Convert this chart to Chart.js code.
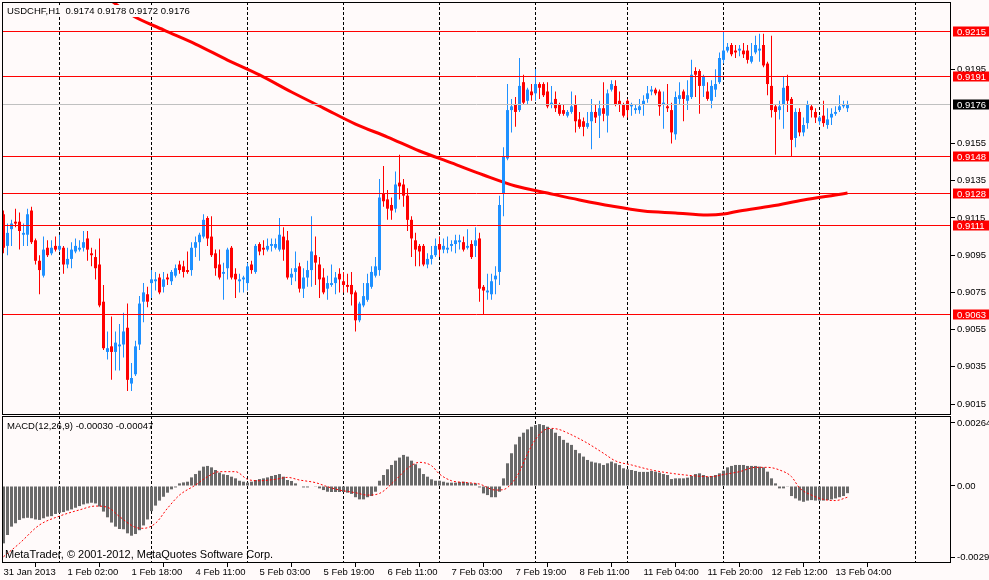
<!DOCTYPE html>
<html>
<head>
<meta charset="utf-8">
<title>USDCHF,H1</title>
<script src="https://cdn.jsdelivr.net/npm/chart.js@4.4.1/dist/chart.umd.min.js"></script>
<style>
  html, body { margin: 0; padding: 0; background: #fffafa; }
  #wrap { position: relative; width: 989px; height: 580px; overflow: hidden; }
  #priceChart { position: absolute; left: 0; top: 0; }
  #macdChart { position: absolute; left: 0; top: 416px; }
</style>
</head>
<body>
<div id="wrap">
  <canvas id="priceChart" width="989" height="416"></canvas>
  <canvas id="macdChart" width="989" height="164"></canvas>
</div>
<script>
// hourly bars, 31 Jan 10:00 .. 13 Feb 06:00
const opens = [
  0.9117,0.9100,0.9109,0.9113,0.9113,0.9106,0.9106,0.9119,0.9103,0.9092,
  0.9084,0.9099,0.9096,0.9100,0.9098,0.9099,0.9090,0.9093,0.9097,0.9098,
  0.9099,0.9104,0.9096,0.9094,0.9090,0.9070,0.9043,0.9046,0.9043,0.9046,
  0.9047,0.9056,0.9026,0.9031,0.9047,0.9070,0.9074,0.9080,0.9081,0.9083,
  0.9078,0.9083,0.9081,0.9084,0.9090,0.9089,0.9087,0.9087,0.9099,0.9102,
  0.9105,0.9115,0.9105,0.9096,0.9090,0.9085,0.9088,0.9099,0.9085,0.9081,
  0.9082,0.9080,0.9090,0.9086,0.9101,0.9099,0.9098,0.9100,0.9099,0.9098,
  0.9105,0.9103,0.9083,0.9086,0.9089,0.9077,0.9083,0.9087,0.9095,0.9090,
  0.9083,0.9077,0.9079,0.9080,0.9085,0.9081,0.9079,0.9079,0.9075,0.9060,
  0.9068,0.9071,0.9078,0.9084,0.9087,0.9128,0.9125,0.9122,0.9120,0.9134,
  0.9133,0.9127,0.9114,0.9103,0.9100,0.9100,0.9090,0.9093,0.9095,0.9101,
  0.9098,0.9098,0.9100,0.9101,0.9102,0.9102,0.9099,0.9101,0.9100,0.9104,
  0.9078,0.9075,0.9074,0.9082,0.9086,0.9128,0.9147,0.9173,0.9176,0.9173,
  0.9188,0.9178,0.9183,0.9182,0.9187,0.9187,0.9183,0.9176,0.9179,0.9176,
  0.9173,0.9170,0.9172,0.9176,0.9168,0.9167,0.9164,0.9167,0.9172,0.9170,
  0.9174,0.9170,0.9184,0.9186,0.9178,0.9176,0.9178,0.9175,0.9173,0.9173,
  0.9176,0.9179,0.9183,0.9184,0.9183,0.9176,0.9175,0.9173,0.9160,0.9179,
  0.9183,0.9178,0.9180,0.9194,0.9194,0.9186,0.9183,0.9178,0.9184,0.9188,
  0.9200,0.9205,0.9208,0.9205,0.9205,0.9205,0.9205,0.9199,0.9204,0.9205,
  0.9208,0.9198,0.9186,0.9175,0.9173,0.9176,0.9186,0.9179,0.9158,0.9172,
  0.9161,0.9166,0.9175,0.9172,0.9167,0.9170,0.9165,0.9169,0.9171,0.9173,
  0.9175,0.9174
];
const highs = [
  0.9119,0.9112,0.9114,0.9120,0.9118,0.9112,0.9120,0.9121,0.9104,0.9095,
  0.9105,0.9103,0.9103,0.9105,0.9106,0.9100,0.9099,0.9102,0.9104,0.9103,
  0.9108,0.9108,0.9099,0.9098,0.9104,0.9079,0.9054,0.9062,0.9054,0.9058,
  0.9064,0.9069,0.9037,0.9049,0.9073,0.9080,0.9078,0.9087,0.9086,0.9085,
  0.9086,0.9085,0.9087,0.9090,0.9092,0.9092,0.9097,0.9102,0.9105,0.9107,
  0.9117,0.9116,0.9116,0.9098,0.9098,0.9091,0.9099,0.9100,0.9088,0.9085,
  0.9084,0.9091,0.9092,0.9101,0.9102,0.9103,0.9104,0.9104,0.9104,0.9115,
  0.9110,0.9108,0.9088,0.9097,0.9091,0.9088,0.9092,0.9116,0.9105,0.9094,
  0.9088,0.9084,0.9090,0.9086,0.9088,0.9086,0.9085,0.9086,0.9076,0.9070,
  0.9080,0.9085,0.9089,0.9094,0.9136,0.9143,0.9130,0.9126,0.9140,0.9149,
  0.9136,0.9131,0.9116,0.9107,0.9101,0.9101,0.9096,0.9100,0.9104,0.9105,
  0.9104,0.9105,0.9103,0.9106,0.9106,0.9105,0.9109,0.9103,0.9110,0.9107,
  0.9079,0.9085,0.9085,0.9089,0.9127,0.9153,0.9187,0.9179,0.9180,0.9201,
  0.9192,0.9185,0.9187,0.9195,0.9188,0.9188,0.9188,0.9186,0.9183,0.9177,
  0.9176,0.9173,0.9183,0.9181,0.9172,0.9169,0.9172,0.9179,0.9176,0.9178,
  0.9188,0.9184,0.9189,0.9189,0.9183,0.9177,0.9179,0.9177,0.9176,0.9179,
  0.9181,0.9186,0.9186,0.9185,0.9184,0.9183,0.9187,0.9177,0.9183,0.9188,
  0.9184,0.9189,0.9200,0.9196,0.9195,0.9192,0.9188,0.9189,0.9195,0.9204,
  0.9215,0.9209,0.9209,0.9208,0.9208,0.9209,0.9208,0.9209,0.9213,0.9214,
  0.9214,0.9199,0.9213,0.9176,0.9178,0.9191,0.9192,0.9180,0.9174,0.9174,
  0.9169,0.9178,0.9176,0.9174,0.9170,0.9178,0.9174,0.9174,0.9175,0.9181,
  0.9178,0.9178
];
const lows = [
  0.9096,0.9095,0.9100,0.9110,0.9098,0.9100,0.9100,0.9101,0.9090,0.9074,
  0.9083,0.9094,0.9095,0.9097,0.9097,0.9085,0.9088,0.9088,0.9096,0.9097,
  0.9097,0.9092,0.9089,0.9082,0.9067,0.9044,0.9039,0.9028,0.9033,0.9033,
  0.9040,0.9022,0.9022,0.9030,0.9044,0.9059,0.9067,0.9072,0.9076,0.9074,
  0.9075,0.9079,0.9079,0.9083,0.9085,0.9083,0.9085,0.9084,0.9094,0.9092,
  0.9104,0.9100,0.9094,0.9084,0.9082,0.9071,0.9082,0.9082,0.9072,0.9075,
  0.9075,0.9076,0.9085,0.9085,0.9095,0.9095,0.9097,0.9097,0.9098,0.9097,
  0.9092,0.9082,0.9079,0.9081,0.9075,0.9072,0.9078,0.9078,0.9079,0.9072,
  0.9074,0.9071,0.9078,0.9074,0.9075,0.9075,0.9075,0.9068,0.9054,0.9059,
  0.9067,0.9070,0.9077,0.9083,0.9084,0.9121,0.9114,0.9114,0.9118,0.9125,
  0.9121,0.9108,0.9094,0.9089,0.9089,0.9089,0.9088,0.9090,0.9094,0.9094,
  0.9096,0.9096,0.9097,0.9096,0.9098,0.9097,0.9098,0.9093,0.9094,0.9070,
  0.9063,0.9071,0.9071,0.9074,0.9079,0.9116,0.9146,0.9161,0.9164,0.9172,
  0.9176,0.9176,0.9178,0.9178,0.9179,0.9180,0.9174,0.9174,0.9172,0.9170,
  0.9170,0.9169,0.9171,0.9161,0.9163,0.9159,0.9163,0.9152,0.9166,0.9158,
  0.9167,0.9161,0.9183,0.9175,0.9172,0.9169,0.9169,0.9170,0.9171,0.9171,
  0.9170,0.9177,0.9181,0.9181,0.9170,0.9163,0.9172,0.9155,0.9157,0.9176,
  0.9167,0.9173,0.9179,0.9180,0.9171,0.9180,0.9178,0.9174,0.9180,0.9187,
  0.9198,0.9204,0.9202,0.9201,0.9202,0.9201,0.9198,0.9198,0.9203,0.9199,
  0.9196,0.9181,0.9169,0.9149,0.9168,0.9163,0.9172,0.9148,0.9153,0.9159,
  0.9159,0.9163,0.9169,0.9166,0.9165,0.9164,0.9163,0.9165,0.9170,0.9172,
  0.9174,0.9172
];
const closes = [
  0.9099,0.9107,0.9112,0.9112,0.9108,0.9107,0.9117,0.9102,0.9092,0.9087,
  0.9098,0.9095,0.9099,0.9098,0.9100,0.9090,0.9093,0.9098,0.9100,0.9099,
  0.9102,0.9098,0.9095,0.9088,0.9068,0.9045,0.9045,0.9043,0.9048,0.9047,
  0.9054,0.9028,0.9029,0.9046,0.9069,0.9075,0.9070,0.9082,0.9082,0.9075,
  0.9082,0.9082,0.9086,0.9088,0.9087,0.9086,0.9086,0.9099,0.9102,0.9106,
  0.9114,0.9104,0.9095,0.9088,0.9083,0.9086,0.9098,0.9083,0.9082,0.9082,
  0.9083,0.9089,0.9087,0.9100,0.9097,0.9098,0.9100,0.9101,0.9101,0.9106,
  0.9098,0.9083,0.9085,0.9088,0.9077,0.9083,0.9087,0.9097,0.9091,0.9082,
  0.9075,0.9080,0.9080,0.9083,0.9082,0.9079,0.9078,0.9074,0.9060,0.9069,
  0.9073,0.9080,0.9086,0.9089,0.9126,0.9124,0.9120,0.9119,0.9133,0.9132,
  0.9127,0.9114,0.9104,0.9098,0.9097,0.9090,0.9093,0.9095,0.9100,0.9098,
  0.9100,0.9099,0.9101,0.9103,0.9103,0.9098,0.9100,0.9094,0.9103,0.9077,
  0.9076,0.9076,0.9081,0.9084,0.9122,0.9148,0.9173,0.9175,0.9172,0.9186,
  0.9177,0.9184,0.9181,0.9187,0.9185,0.9181,0.9175,0.9177,0.9174,0.9171,
  0.9171,0.9172,0.9175,0.9167,0.9164,0.9164,0.9166,0.9172,0.9169,0.9174,
  0.9171,0.9182,0.9187,0.9176,0.9176,0.9170,0.9173,0.9176,0.9174,0.9175,
  0.9178,0.9182,0.9184,0.9182,0.9175,0.9177,0.9174,0.9161,0.9180,0.9181,
  0.9179,0.9181,0.9192,0.9192,0.9186,0.9191,0.9179,0.9186,0.9187,0.9201,
  0.9205,0.9207,0.9203,0.9204,0.9206,0.9203,0.9200,0.9202,0.9208,0.9206,
  0.9197,0.9187,0.9173,0.9172,0.9175,0.9185,0.9178,0.9157,0.9172,0.9161,
  0.9165,0.9176,0.9173,0.9169,0.9169,0.9166,0.9168,0.9171,0.9172,0.9175,
  0.9176,0.9176
];

// moving average, read at a few bars
const maBars = [25, 32, 40, 48, 56, 64, 72, 80, 88, 96, 104, 112, 120, 128, 136, 144, 152, 160, 168, 176, 180, 184, 192, 200, 208, 211];
const maValues = [0.92350, 0.92241, 0.92161, 0.92085, 0.91999, 0.91919, 0.91827, 0.91741, 0.91655, 0.91585,
                  0.91510, 0.91446, 0.91381, 0.91322, 0.91284, 0.91247, 0.91214, 0.91188, 0.91177, 0.91166,
                  0.91171, 0.91188, 0.91214, 0.91247, 0.91274, 0.91284];

// MACD(12,26,9) histogram, one value per bar
const macdHist = [
  -0.00240,-0.00205,-0.00170,-0.00156,-0.00142,-0.00135,-0.00133,-0.00135,-0.00140,-0.00142,
  -0.00135,-0.00128,-0.00126,-0.00117,-0.00112,-0.00109,-0.00103,-0.00098,-0.00091,-0.00084,
  -0.00077,-0.00073,-0.00070,-0.00073,-0.00086,-0.00107,-0.00131,-0.00153,-0.00170,-0.00180,
  -0.00181,-0.00198,-0.00208,-0.00201,-0.00185,-0.00165,-0.00140,-0.00105,-0.00082,-0.00061,
  -0.00045,-0.00028,-0.00014,-0.00006, 0.00011, 0.00015, 0.00018, 0.00036, 0.00050, 0.00064,
   0.00081, 0.00084, 0.00078, 0.00067, 0.00056, 0.00049, 0.00046, 0.00039, 0.00032, 0.00022,
   0.00018, 0.00014, 0.00018, 0.00025, 0.00029, 0.00032, 0.00036, 0.00042, 0.00046, 0.00050,
   0.00039, 0.00025, 0.00021, 0.00011, 0.00002,-0.00006,-0.00006,-0.00002,-0.00003,-0.00010,
  -0.00017,-0.00024,-0.00025,-0.00025,-0.00025,-0.00025,-0.00028,-0.00033,-0.00047,-0.00056,
  -0.00056,-0.00047,-0.00042,-0.00024, 0.00022, 0.00046, 0.00070, 0.00088, 0.00106, 0.00119,
   0.00130, 0.00123, 0.00106, 0.00091, 0.00074, 0.00050, 0.00039, 0.00028, 0.00022, 0.00022,
   0.00018, 0.00014, 0.00014, 0.00014, 0.00017, 0.00018, 0.00014, 0.00011, 0.00011,-0.00006,
  -0.00031,-0.00038,-0.00047,-0.00047,-0.00024, 0.00032, 0.00095, 0.00137, 0.00174, 0.00206,
   0.00223, 0.00237, 0.00248, 0.00255, 0.00259, 0.00255, 0.00248, 0.00239, 0.00223, 0.00209,
   0.00193, 0.00181, 0.00172, 0.00151, 0.00137, 0.00123, 0.00109, 0.00102, 0.00098, 0.00095,
   0.00088, 0.00095, 0.00102, 0.00095, 0.00088, 0.00074, 0.00070, 0.00067, 0.00063, 0.00059,
   0.00059, 0.00059, 0.00063, 0.00060, 0.00056, 0.00050, 0.00046, 0.00029, 0.00032, 0.00032,
   0.00032, 0.00035, 0.00042, 0.00050, 0.00053, 0.00046, 0.00039, 0.00042, 0.00046, 0.00053,
   0.00064, 0.00078, 0.00084, 0.00088, 0.00088, 0.00088, 0.00084, 0.00084, 0.00084, 0.00081,
   0.00078, 0.00060, 0.00032, 0.00011,-0.00010,-0.00010,-0.00003,-0.00042,-0.00052,-0.00061,
  -0.00066,-0.00061,-0.00059,-0.00061,-0.00061,-0.00061,-0.00059,-0.00056,-0.00052,-0.00047,
  -0.00042,-0.00030
];
// signal line, read at a few bars
const signalBars = [0, 4, 9, 14, 19, 23, 26, 29, 33, 35, 38, 41, 44, 48, 51, 54, 58, 61, 64, 68, 71, 74, 78, 81, 84, 88,
                    91, 94, 98, 101, 104, 107, 109, 112, 116, 119, 123, 125, 127, 129, 131, 133, 135, 137, 139, 141, 143,
                    146, 150, 153, 157, 162, 167, 173, 177, 180, 184, 188, 191, 194, 197, 199, 202, 205, 208, 211];
const signalValues = [-0.00296, -0.00240, -0.00163, -0.00126, -0.00100, -0.00084, -0.00089, -0.00128, -0.00173, -0.00177,
                      -0.00156, -0.00093, -0.00038, 0.00004, 0.00039, 0.00060, 0.00060, 0.00028, 0.00022, 0.00028,
                      0.00036, 0.00025, 0.00014, -0.00003, -0.00017, -0.00028, -0.00038, -0.00031, 0.00025, 0.00074,
                      0.00099, 0.00085, 0.00050, 0.00022, 0.00014, 0.00008, -0.00017, -0.00015, 0.00010, 0.00060,
                      0.00135, 0.00195, 0.00232, 0.00241, 0.00236, 0.00222, 0.00206, 0.00179, 0.00137, 0.00105,
                      0.00088, 0.00067, 0.00053, 0.00042, 0.00039, 0.00048, 0.00060, 0.00078, 0.00078, 0.00067,
                      0.00039, -0.00008, -0.00038, -0.00056, -0.00061, -0.00047];

const dayStarts = [14, 37, 61, 85, 109, 133, 156, 180, 204, 228];
const timeBars = [0, 16, 32, 48, 64, 80, 96, 112, 128, 144, 160, 176, 192, 208];
const timeLabels = ['31 Jan 2013', '1 Feb 02:00', '1 Feb 18:00', '4 Feb 11:00', '5 Feb 03:00', '5 Feb 19:00', '6 Feb 11:00',
                    '7 Feb 03:00', '7 Feb 19:00', '8 Feb 11:00', '11 Feb 04:00', '11 Feb 20:00', '12 Feb 12:00', '13 Feb 04:00'];
const priceTicks = [0.9015, 0.9035, 0.9055, 0.9075, 0.9095, 0.9115, 0.9135, 0.9155, 0.9195];
const levelLines = [0.9215, 0.9191, 0.9148, 0.9128, 0.9111, 0.9063];
const bidPrice = 0.9176;
const macdTicks = [-0.00299, 0, 0.00264];
const macdTickLabels = ['-0.00299', '0.00', '0.00264'];
const symbol = 'USDCHF,H1';
const lastBar = [0.9174, 0.9178, 0.9172, 0.9176];
const macdTitle = 'MACD(12,26,9) -0.00030 -0.00047';
const watermark = 'MetaTrader, \u00a9 2001-2012, MetaQuotes Software Corp.';

const FONT = "'Liberation Sans', Arial, sans-serif";
const TXT = 9.5;
const BULL = '#1e90ff', BEAR = '#ff0000', BG = '#fffafa';
const X_MIN = -0.375, X_MAX = 236.875;
const AXIS_W = 38;

const bars = opens.map((_, i) => i);
const candleColors = bars.map(i => closes[i] >= opens[i] ? BULL : BEAR);

// dashed day separators
function daySeparators(chart) {
    const {ctx, chartArea: a, scales: {x}} = chart;
    ctx.save();
    ctx.strokeStyle = '#000';
    ctx.lineWidth = 1;
    ctx.setLineDash([3, 2]);
    ctx.beginPath();
    dayStarts.forEach(d => {
        const px = Math.floor(x.getPixelForValue(d)) + 0.5;
        ctx.moveTo(px, a.top);
        ctx.lineTo(px, a.bottom);
    });
    ctx.stroke();
    ctx.restore();
}

function drawFrame(chart) {
    const {ctx, chartArea: a} = chart;
    ctx.save();
    ctx.strokeStyle = '#000';
    ctx.lineWidth = 1;
    ctx.strokeRect(a.left + 0.5, a.top + 0.5, a.width - 1, a.height - 1);
    ctx.restore();
}

const pricePlugin = {
    id: 'pricePlugin',
    beforeDatasetsDraw(chart) {
        daySeparators(chart);
    },
    afterDatasetsDraw(chart) {
        const {ctx, chartArea: a, scales: {y}} = chart;
        ctx.save();
        ctx.lineWidth = 1;
        const hline = (v, color) => {
            const py = Math.floor(y.getPixelForValue(v)) + 0.5;
            ctx.strokeStyle = color;
            ctx.beginPath();
            ctx.moveTo(a.left, py);
            ctx.lineTo(a.right, py);
            ctx.stroke();
        };
        hline(bidPrice, '#c0c0c0');
        levelLines.forEach(v => hline(v, '#ff0000'));
        ctx.restore();
    },
    afterDraw(chart) {
        const {ctx, chartArea: a, scales: {y}} = chart;
        drawFrame(chart);
        ctx.save();
        ctx.font = TXT + 'px ' + FONT;
        ctx.textBaseline = 'middle';
        const tag = (v, bg) => {
            const py = Math.floor(y.getPixelForValue(v)) + 0.5;
            ctx.fillStyle = bg;
            ctx.fillRect(a.right + 2, py - 5, 36, 10);
            ctx.fillStyle = '#fff';
            ctx.fillText(v.toFixed(4), a.right + 6, py + 0.5);
        };
        levelLines.forEach(v => tag(v, '#ff0000'));
        tag(bidPrice, '#000');

        // top-left caption
        const caption = symbol + '  ' + lastBar.map(v => v.toFixed(4)).join(' ');
        const w = ctx.measureText(caption).width;
        ctx.fillStyle = BG;
        ctx.fillRect(a.left + 3, a.top + 3, w + 5, 12);
        ctx.fillStyle = '#000';
        ctx.fillText(caption, a.left + 5, a.top + 9);
        ctx.restore();
    }
};

const macdPlugin = {
    id: 'macdPlugin',
    beforeDatasetsDraw(chart) {
        daySeparators(chart);
    },
    afterDraw(chart) {
        const {ctx, chartArea: a} = chart;
        drawFrame(chart);
        ctx.save();
        ctx.textBaseline = 'middle';
        ctx.fillStyle = '#000';
        ctx.font = TXT + 'px ' + FONT;
        ctx.fillText(macdTitle, a.left + 5, a.top + 10);
        ctx.font = '11px ' + FONT;
        ctx.fillText(watermark, a.left + 3, a.bottom - 8);
        ctx.restore();
    }
};

const axisFont = { family: FONT, size: TXT };

// price panel
new Chart(document.getElementById('priceChart'), {
    type: 'bar',
    data: {
        datasets: [
            {
                type: 'line',
                data: maBars.map((b, k) => ({ x: b, y: maValues[k] })),
                borderColor: '#ff0000',
                borderWidth: 3,
                pointRadius: 0,
                tension: 0.4,
                cubicInterpolationMode: 'monotone',
                order: 3
            },
            {
                data: bars.map(i => ({ x: i, y: [lows[i], highs[i]] })),
                backgroundColor: candleColors,
                barThickness: 1,
                grouped: false,
                inflateAmount: 0,
                order: 2
            },
            {
                data: bars.map(i => ({ x: i, y: [opens[i], closes[i]] })),
                backgroundColor: candleColors,
                barThickness: 3,
                minBarLength: 1,
                grouped: false,
                inflateAmount: 0,
                order: 1
            }
        ]
    },
    options: {
        responsive: false,
        animation: false,
        events: [],
        layout: { padding: { left: 2, top: 2, right: 0, bottom: 1 } },
        plugins: { legend: { display: false }, tooltip: { enabled: false } },
        scales: {
            x: { type: 'linear', min: X_MIN, max: X_MAX, offset: false, display: false },
            y: {
                position: 'right',
                min: 0.90091,
                max: 0.92311,
                afterBuildTicks: s => { s.ticks = priceTicks.map(v => ({ value: v })); },
                afterFit: s => { s.width = AXIS_W; s.paddingTop = 0; s.paddingBottom = 0; },
                grid: { drawOnChartArea: false, drawTicks: true, tickLength: 4, tickColor: '#000' },
                border: { display: false },
                ticks: { autoSkip: false, padding: 2, color: '#000', font: axisFont, callback: v => v.toFixed(4) }
            }
        }
    },
    plugins: [pricePlugin]
});

// MACD panel
new Chart(document.getElementById('macdChart'), {
    type: 'bar',
    data: {
        datasets: [
            {
                type: 'line',
                data: signalBars.map((b, k) => ({ x: b, y: signalValues[k] })),
                borderColor: '#ff0000',
                borderWidth: 1,
                borderDash: [2, 2],
                pointRadius: 0,
                tension: 0.4,
                cubicInterpolationMode: 'monotone',
                order: 0
            },
            {
                data: bars.map(i => ({ x: i, y: macdHist[i] })),
                backgroundColor: '#696969',
                barThickness: 3,
                inflateAmount: 0,
                order: 1
            }
        ]
    },
    options: {
        responsive: false,
        animation: false,
        events: [],
        layout: { padding: { left: 2, top: 0, right: 0, bottom: 0 } },
        plugins: { legend: { display: false }, tooltip: { enabled: false } },
        scales: {
            x: {
                type: 'linear',
                min: X_MIN,
                max: X_MAX,
                offset: false,
                afterBuildTicks: s => { s.ticks = timeBars.map(v => ({ value: v })); },
                afterFit: s => { s.height = 17; s.paddingLeft = 0; s.paddingRight = 0; },
                grid: { drawOnChartArea: false, drawTicks: true, tickLength: 4, tickColor: '#000' },
                border: { display: false },
                ticks: {
                    align: 'start', autoSkip: false, maxRotation: 0, minRotation: 0, padding: 0,
                    color: '#000', font: axisFont, callback: (v, i) => timeLabels[i]
                }
            },
            y: {
                position: 'right',
                min: -0.003222,
                max: 0.002929,
                afterBuildTicks: s => { s.ticks = macdTicks.map(v => ({ value: v })); },
                afterFit: s => { s.width = AXIS_W; s.paddingTop = 0; s.paddingBottom = 0; },
                grid: { drawOnChartArea: false, drawTicks: true, tickLength: 4, tickColor: '#000' },
                border: { display: false },
                ticks: { autoSkip: false, padding: 2, color: '#000', font: axisFont, callback: (v, i) => macdTickLabels[i] }
            }
        }
    },
    plugins: [macdPlugin]
});
</script>
</body>
</html>
